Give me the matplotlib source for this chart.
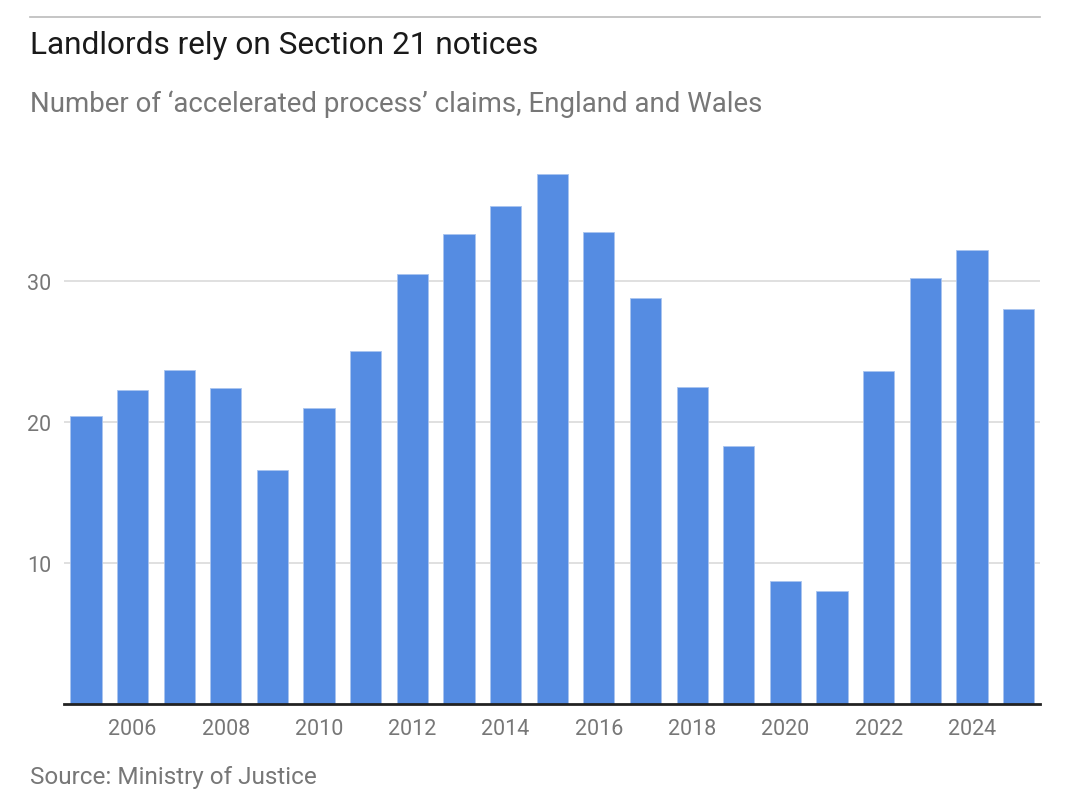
import matplotlib
matplotlib.use("Agg")
import matplotlib.pyplot as plt
from matplotlib import font_manager

years = list(range(2005, 2026))
claims = [20.4, 22.3, 23.7, 22.4, 16.6, 21.0, 25.0, 30.5, 33.3, 35.3, 37.6,
          33.5, 28.8, 22.5, 18.3, 8.7, 8.0, 23.6, 30.2, 32.2, 28.0]
xticks = [2006, 2008, 2010, 2012, 2014, 2016, 2018, 2020, 2022, 2024]
yticks = [10, 20, 30]

title = "Landlords rely on Section 21 notices"
subtitle = "Number of \u2018accelerated process\u2019 claims, England and Wales"
source = "Source: Ministry of Justice"

bar_color = "#558ce2"
grey = "#777777"

names = {f.name for f in font_manager.fontManager.ttflist}
narrow = "Liberation Sans Narrow" if "Liberation Sans Narrow" in names else "Roboto"
plt.rcParams["font.family"] = ["Roboto", "DejaVu Sans"]

fig = plt.figure(figsize=(10.8, 8.12), dpi=100)
ax = fig.add_axes([64 / 1080, 1 - 705 / 812, (1040 - 64) / 1080, 564 / 812])

ax.bar(years, claims, width=0.67, color=bar_color, edgecolor="#a9c4ef",
       linewidth=0.6, zorder=2)

ax.set_xlim(2005 - 0.47, 2025 + 0.46)
ax.set_ylim(0, 40)
ax.set_yticks(yticks)
ax.set_xticks(xticks)
ax.set_xticklabels([str(y) for y in xticks], fontsize=15.5, color=grey,
                   family=narrow)
ax.set_yticklabels([str(v) for v in yticks], fontsize=15.5, color=grey,
                   family=narrow)
ax.tick_params(axis="both", length=0)
ax.tick_params(axis="x", pad=10)
ax.tick_params(axis="y", pad=9)
ax.grid(axis="y", color="#dddddd", linewidth=1.3, zorder=0)

for side in ["top", "right", "left"]:
    ax.spines[side].set_visible(False)
ax.spines["bottom"].set_color("#222222")
ax.spines["bottom"].set_linewidth(2)
ax.spines["bottom"].set_zorder(3)

# top rule and text block
fig.add_artist(plt.Line2D([30 / 1080, 1040 / 1080], [1 - 18 / 812, 1 - 18 / 812],
                          color="#bbbbbb", linewidth=1.2))
fig.text(30 / 1080, 1 - 46 / 812, title, fontsize=22.8, color="#1a1a1a",
         va="center", ha="left")
fig.text(30 / 1080, 1 - 104 / 812, subtitle, fontsize=19.9, color=grey,
         va="center", ha="left")
fig.text(30 / 1080, 1 - 778 / 812, source, fontsize=17.5, color=grey,
         va="center", ha="left")

fig.savefig("out.png", dpi=100)
